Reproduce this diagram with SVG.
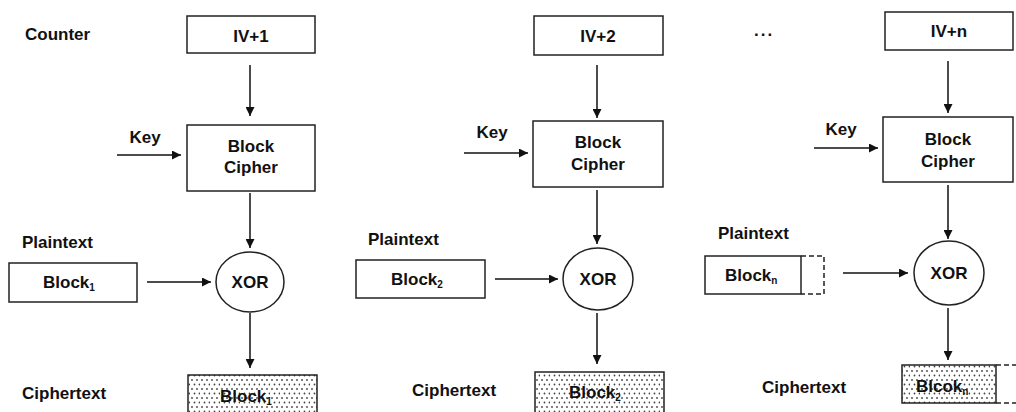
<svg xmlns="http://www.w3.org/2000/svg" width="1016" height="412" viewBox="0 0 1016 412">
<style>
  text { font-family: "Liberation Sans", Arial, sans-serif; font-weight: bold; font-size: 17px; fill: #111; }
  .c { text-anchor: middle; }
  .sub { font-size: 10px; }
  .box { fill: #fff; stroke: #222; stroke-width: 1.5; }
  .dot { fill: url(#dots); stroke: #222; stroke-width: 1.5; }
  .dash { fill: none; stroke: #222; stroke-width: 1.5; stroke-dasharray: 5 3; }
  .edge { stroke: #111; stroke-width: 1.5; fill: none; marker-end: url(#ah); }
</style>
<defs>
  <marker id="ah" markerWidth="9" markerHeight="9" refX="9" refY="4.5" orient="auto" markerUnits="userSpaceOnUse">
    <path d="M0,0 L9,4.5 L0,9 Z" fill="#111"/>
  </marker>
  <pattern id="dots" width="10" height="9" patternUnits="userSpaceOnUse">
    <rect width="10" height="9" fill="#fff"/>
    <circle cx="2" cy="2" r="0.9" fill="#444"/>
    <circle cx="7" cy="2" r="0.9" fill="#444"/>
    <circle cx="4.5" cy="6.5" r="0.9" fill="#444"/>
    <circle cx="9.5" cy="6.5" r="0.9" fill="#444"/>
  </pattern>
</defs>
<rect width="1016" height="412" fill="#fff"/>

<g id="labels">
  <text x="25" y="40">Counter</text>
  <text x="145" y="143" class="c">Key</text>
  <text x="22" y="248">Plaintext</text>
  <text x="22" y="399">Ciphertext</text>
  <text x="492" y="138" class="c">Key</text>
  <text x="368" y="245">Plaintext</text>
  <text x="412" y="396">Ciphertext</text>
  <text x="754" y="36" letter-spacing="2">...</text>
  <text x="841" y="135" class="c">Key</text>
  <text x="718" y="239">Plaintext</text>
  <text x="762" y="393">Ciphertext</text>
</g>

<!-- Column 1 -->
<g id="iv1"><rect class="box" x="187" y="16" width="128" height="37"/><text x="251" y="42" class="c">IV+1</text></g>
<g id="bc1"><rect class="box" x="187" y="125" width="128" height="66"/><text x="251" y="152" class="c">Block</text><text x="251" y="173" class="c">Cipher</text></g>
<g id="xor1"><ellipse class="box" cx="250" cy="282" rx="34" ry="30"/><text x="250" y="288" class="c">XOR</text></g>
<g id="p1"><rect class="box" x="9" y="263" width="128" height="39"/><text x="43" y="288">Block<tspan class="sub" dy="3">1</tspan></text></g>
<g id="c1"><rect class="dot" x="188" y="375" width="129" height="45"/><text x="220" y="402">Block<tspan class="sub" dy="3">1</tspan></text></g>

<!-- Column 2 -->
<g id="iv2"><rect class="box" x="534" y="16" width="129" height="39"/><text x="598" y="42" class="c">IV+2</text></g>
<g id="bc2"><rect class="box" x="533" y="121" width="130" height="66"/><text x="598" y="148" class="c">Block</text><text x="598" y="170" class="c">Cipher</text></g>
<g id="xor2"><ellipse class="box" cx="598" cy="279" rx="35" ry="31"/><text x="598" y="285" class="c">XOR</text></g>
<g id="p2"><rect class="box" x="356" y="260" width="129" height="38"/><text x="391" y="285">Block<tspan class="sub" dy="3">2</tspan></text></g>
<g id="c2"><rect class="dot" x="535" y="372" width="129" height="45"/><text x="569" y="398">Block<tspan class="sub" dy="3">2</tspan></text></g>

<!-- Column 3 -->
<g id="ivn"><rect class="box" x="885" y="12" width="128" height="38"/><text x="949" y="37" class="c">IV+n</text></g>
<g id="bcn"><rect class="box" x="883" y="117" width="130" height="65"/><text x="948" y="145" class="c">Block</text><text x="948" y="167" class="c">Cipher</text></g>
<g id="xorn"><ellipse class="box" cx="949" cy="273" rx="35" ry="32"/><text x="949" y="279" class="c">XOR</text></g>
<g id="pn"><path class="dash" d="M801,256 H824 V294 H801"/><rect class="box" x="705" y="256" width="96" height="38"/><text x="725" y="281">Block<tspan class="sub" dy="3">n</tspan></text></g>
<g id="cn"><path class="dash" d="M996,365 H1016 M996,403 H1016"/><rect class="dot" x="902" y="365" width="94" height="38"/><text x="916" y="392">Blcok<tspan class="sub" dy="3">n</tspan></text></g>

<g id="connectors">
  <line class="edge" x1="250" y1="65" x2="250" y2="116"/>
  <line class="edge" x1="250" y1="193" x2="250" y2="248"/>
  <line class="edge" x1="250" y1="313" x2="250" y2="368"/>
  <line class="edge" x1="117" y1="155" x2="181" y2="155"/>
  <line class="edge" x1="147" y1="282" x2="211" y2="282"/>

  <line class="edge" x1="597" y1="65" x2="597" y2="118"/>
  <line class="edge" x1="597" y1="190" x2="597" y2="244"/>
  <line class="edge" x1="597" y1="313" x2="597" y2="364"/>
  <line class="edge" x1="464" y1="153" x2="528" y2="153"/>
  <line class="edge" x1="495" y1="279" x2="558" y2="279"/>

  <line class="edge" x1="948" y1="61" x2="948" y2="113"/>
  <line class="edge" x1="948" y1="185" x2="948" y2="239"/>
  <line class="edge" x1="948" y1="308" x2="948" y2="360"/>
  <line class="edge" x1="814" y1="148" x2="878" y2="148"/>
  <line class="edge" x1="843" y1="273" x2="908" y2="273"/>
</g>
</svg>
